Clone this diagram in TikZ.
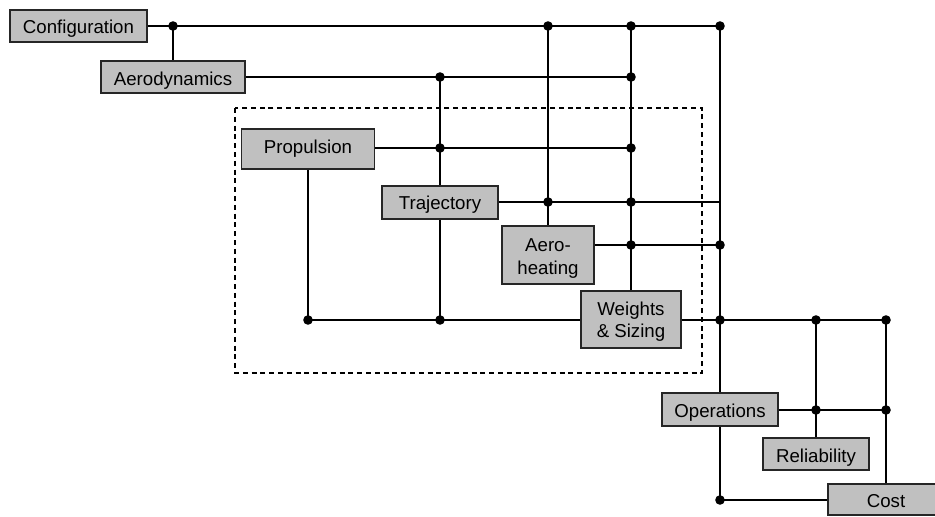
\documentclass[tikz,border=0pt]{standalone}
\usepackage{fontspec}
\setmainfont{Liberation Sans}
\definecolor{boxgray}{HTML}{C0C0C0}
\begin{document}
\begin{tikzpicture}[x=0.75pt,y=-0.75pt,
  box/.style={draw=black!85, line width=1.2pt, fill=boxgray, inner sep=0pt, align=center,
    text height=12pt, text depth=0pt, font=\fontsize{14}{16.7}\selectfont},
  bx/.style 2 args={box, minimum width=#1*0.75pt, minimum height=#2*0.75pt},
  link/.style={line width=1.75pt},
  thinlink/.style={line width=1.2pt},
  grp/.style={draw, line width=1.15pt, dash pattern=on 3.8pt off 2.8pt}]
\useasboundingbox (0,0) rectangle (935,517);
% group
\draw[grp] (235,108) rectangle (702,373);
% boxes
\node[bx={137}{32}] (conf) at (78.5,26) {Configuration};
\node[bx={144}{32}] (aero) at (173,77) {Aerodynamics};
\node[bx={133}{40}, text height=6.5pt] (prop) at (308,149) {Propulsion};
\node[bx={116}{33}, text height=11pt] (traj) at (440,202.5) {Trajectory};
\node[bx={92}{58}, text height=28.5pt] (heat) at (548,255) {Aero-\\heating};
\node[bx={100}{57}, text height=26.7pt] (wts) at (631,319.5) {Weights\\\& Sizing};
\node[bx={116}{33}] (ops) at (720,409.5) {Operations};
\node[bx={106}{32}] (rel) at (816,454) {Reliability};
\node[bx={116}{31}] (cost) at (886,499.5) {Cost};
% junctions
\coordinate (c1) at (173,26);
\coordinate (c2) at (548,26);
\coordinate (c3) at (631,26);
\coordinate (c4) at (720,26);
\coordinate (a1) at (440,77);
\coordinate (a2) at (631,77);
\coordinate (p1) at (440,148);
\coordinate (p2) at (631,148);
\coordinate (t1) at (548,202);
\coordinate (t2) at (631,202);
\coordinate (t3) at (720,202);
\coordinate (h1) at (631,245);
\coordinate (h2) at (720,245);
\coordinate (w1) at (308,320);
\coordinate (w2) at (440,320);
\coordinate (w3) at (720,320);
\coordinate (w4) at (816,320);
\coordinate (w5) at (886,320);
\coordinate (o1) at (816,410);
\coordinate (o2) at (886,410);
\coordinate (k1) at (720,500);
% connectors
\draw[link] (conf.east) -- (c3);
\draw[thinlink] (c3) -- (c4);
\draw[link] (c1) -- (aero.north);
\draw[link] (aero.east) -- (a2);
\draw[link] (a1) -- (traj.north);
\draw[link] (traj.south) -- (w2);
\draw[link] (prop.east |- p1) -- (p2);
\draw[link] (prop.south) -- (w1) -- (wts.west |- w1);
\draw[link] (wts.east |- w3) -- (w4);
\draw[thinlink] (w4) -- (w5);
\draw[link] (w5) -- (cost.north);
\draw[link] (traj.east |- t1) -- (t2);
\draw[thinlink] (t2) -- (t3);
\draw[link] (heat.east |- h1) -- (h1);
\draw[thinlink] (h1) -- (h2);
\draw[link] (c2) -- (heat.north);
\draw[link] (c3) -- (wts.north);
\draw[link] (c4) -- (ops.north);
\draw[link] (w4) -- (rel.north);
\draw[link] (ops.east |- o1) -- (o2);
\draw[thinlink] (ops.south) -- (k1) -- (cost.west |- k1);
% dots
\foreach \p in {c1,c2,c3,c4,a1,a2,p1,p2,t1,t2,h1,h2,w1,w2,w3,w4,w5,o1,o2,k1}
  \fill (\p) circle (3.6pt);
\end{tikzpicture}
\end{document}
